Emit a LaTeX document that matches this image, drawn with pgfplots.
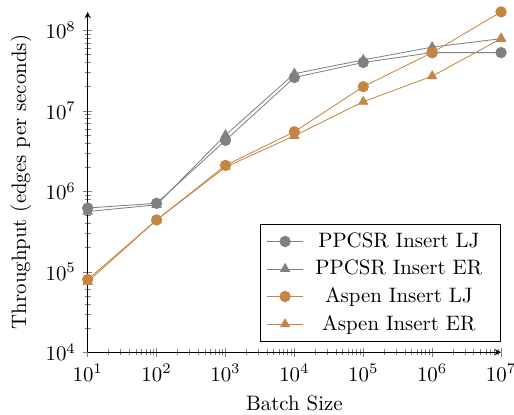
\documentclass[border=0pt]{standalone}
\usepackage{pgfplots}
\pgfplotsset{compat=1.18}
\definecolor{ppc}{RGB}{128,128,128}
\definecolor{asp}{RGB}{198,133,66}
\begin{document}
\begin{tikzpicture}
\begin{axis}[
  scale only axis,
  width=198pt, height=163pt,
  xmode=log, ymode=log,
  axis lines=left,
  xmin=10, xmax=1e7,
  ymin=1e4,
  xlabel={Batch Size},
  ylabel={Throughput (edges per seconds)},
  legend cell align=center,
  legend style={at={(1,0.03)}, anchor=south east, row sep=0.6pt,
    nodes={minimum width=91.5pt}},
]
\addplot[color=ppc, mark=*, mark size=2.5pt] coordinates {
(10,6.2e5) (100,7.1e5) (1000,4.3e6) (10000,2.6e7) (100000,4.0e7) (1000000,5.3e7) (10000000,5.3e7)};
\addlegendentry{PPCSR Insert LJ}
\addplot[color=ppc, mark=triangle*, mark size=2.5pt] coordinates {
(10,5.6e5) (100,6.8e5) (1000,5.0e6) (10000,2.9e7) (100000,4.3e7) (1000000,6.2e7) (10000000,7.9e7)};
\addlegendentry{PPCSR Insert ER}
\addplot[color=asp, mark=*, mark size=2.5pt] coordinates {
(10,8.0e4) (100,4.4e5) (1000,2.1e6) (10000,5.5e6) (100000,2.0e7) (1000000,5.3e7) (10000000,1.7e8)};
\addlegendentry{Aspen Insert LJ}
\addplot[color=asp, mark=triangle*, mark size=2.5pt] coordinates {
(10,7.5e4) (100,4.4e5) (1000,2.0e6) (10000,4.9e6) (100000,1.3e7) (1000000,2.7e7) (10000000,7.9e7)};
\addlegendentry{Aspen Insert ER}
\end{axis}
\pgfresetboundingbox
\useasboundingbox ([shift={(-42pt,-30pt)}]current axis.south west) rectangle ([shift={(6.2pt,5.7pt)}]current axis.north east);
\end{tikzpicture}
\end{document}
